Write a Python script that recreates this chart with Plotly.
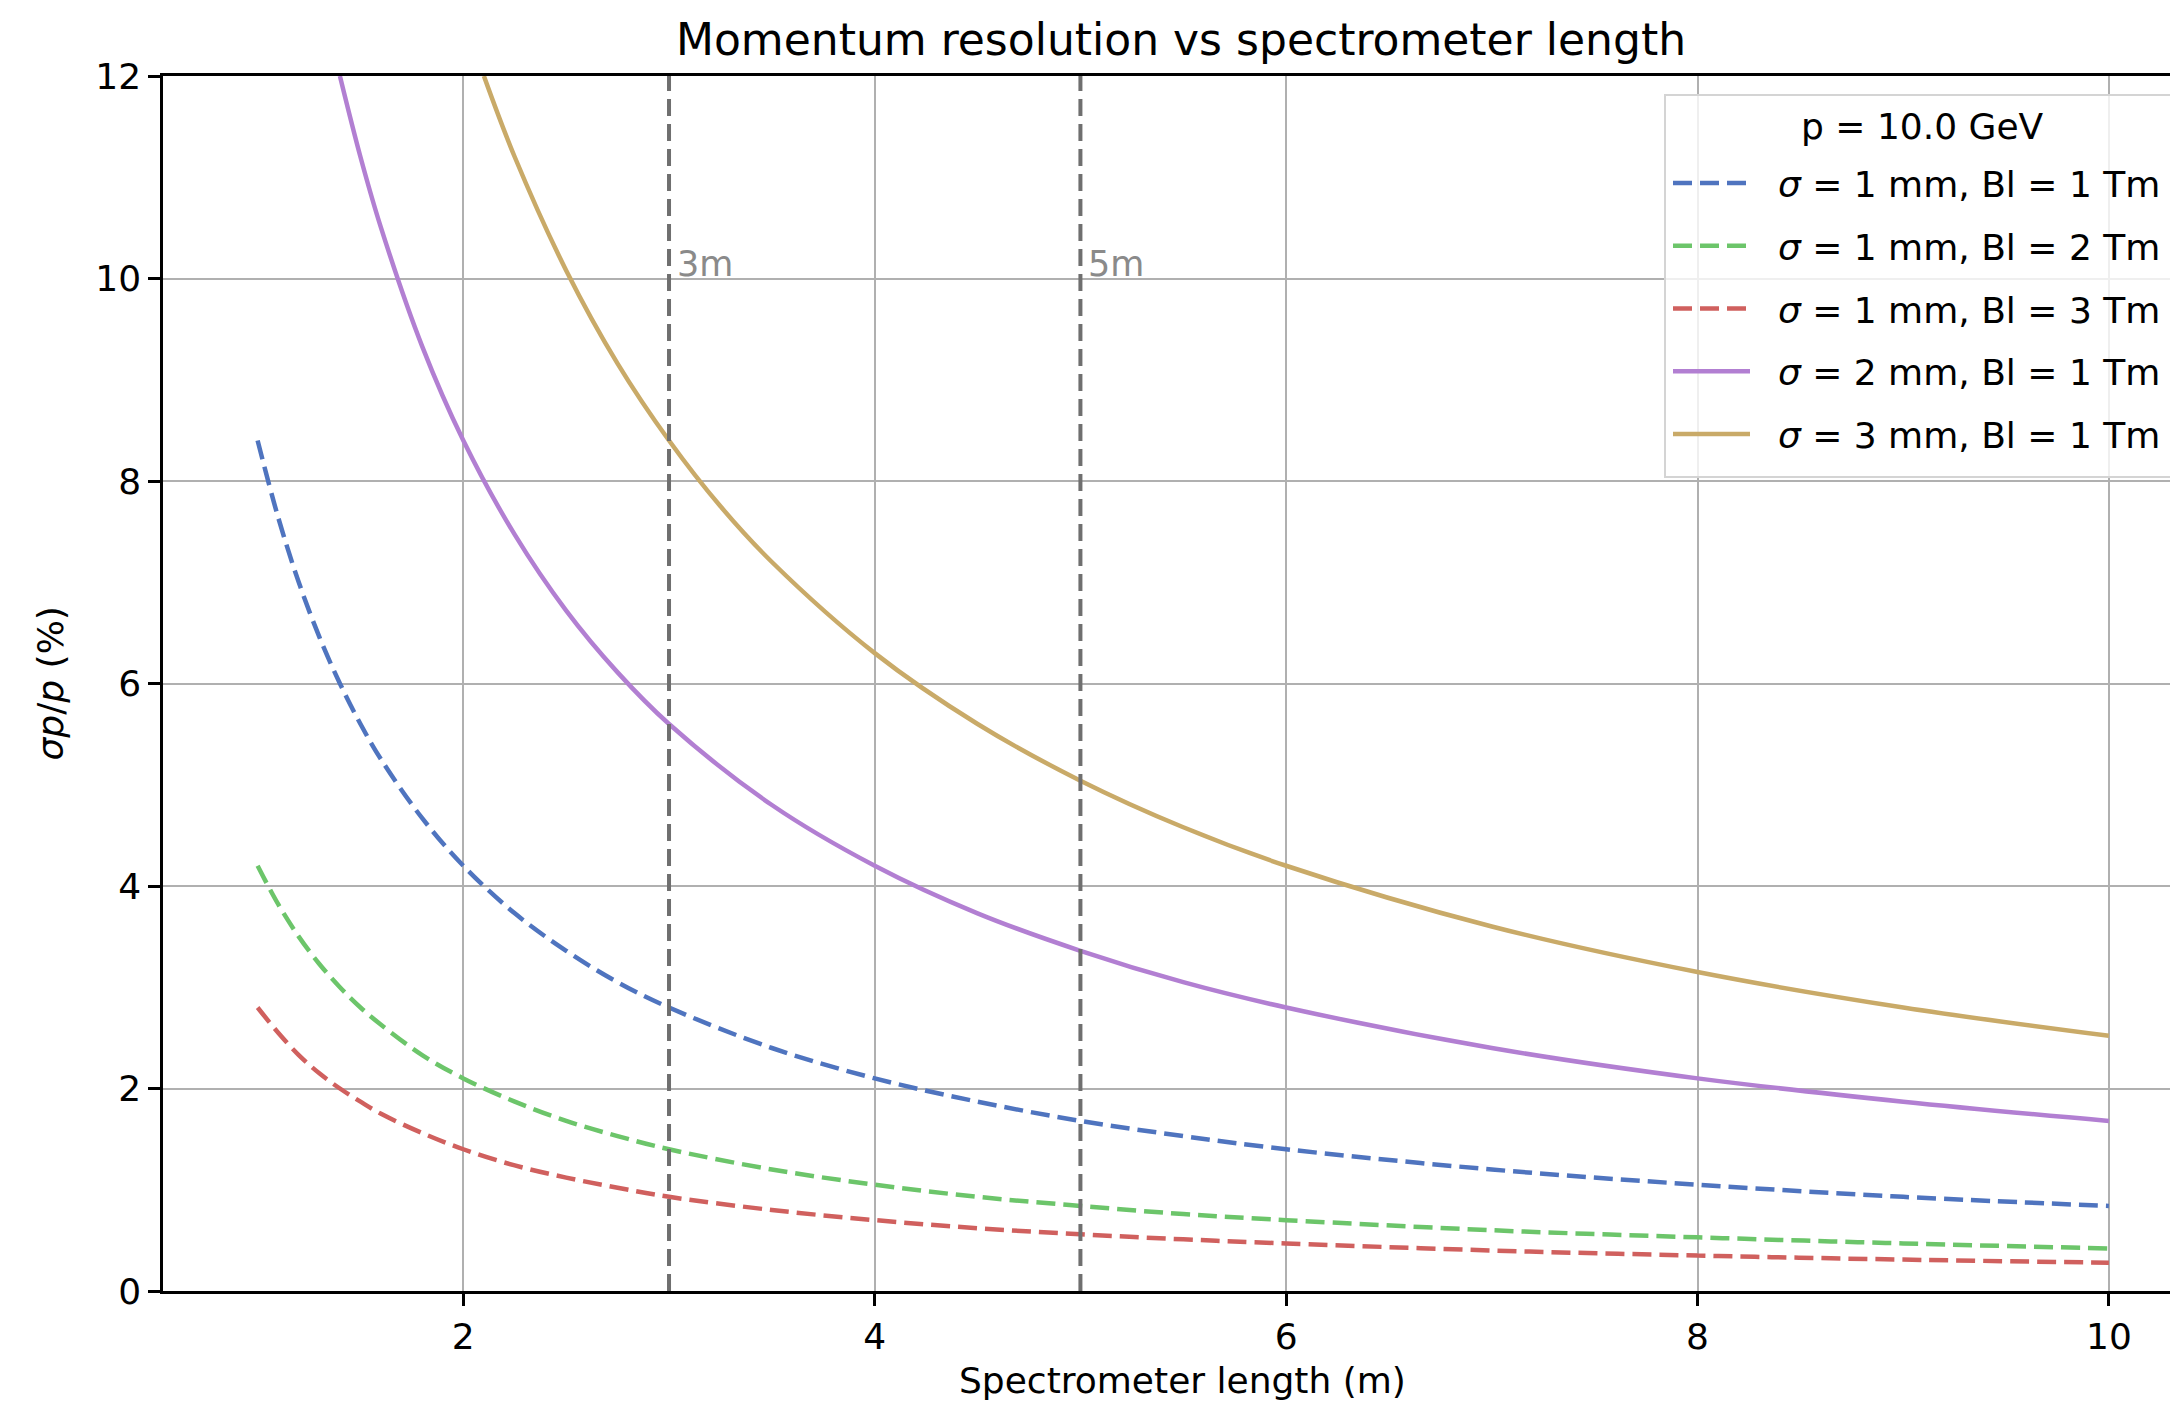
import plotly.graph_objects as go

# ---- data ----
x_b = [1.0, 1.1, 1.2, 1.3, 1.4, 1.5, 1.6, 1.8, 2.0, 2.25, 2.5, 2.75, 3.0, 3.5, 4.0, 4.5, 5.0, 5.5, 6.0, 7.0, 8.0, 9.0, 10.0]
blue_1mm_1Tm = [8.40, 7.64, 7.00, 6.46, 6.00, 5.60, 5.25, 4.67, 4.20, 3.73, 3.36, 3.05, 2.80, 2.40, 2.10, 1.87, 1.68, 1.53, 1.40, 1.20, 1.05, 0.93, 0.84]
green_1mm_2Tm = [4.20, 3.82, 3.50, 3.23, 3.00, 2.80, 2.63, 2.33, 2.10, 1.87, 1.68, 1.53, 1.40, 1.20, 1.05, 0.93, 0.84, 0.76, 0.70, 0.60, 0.53, 0.47, 0.42]
red_1mm_3Tm = [2.80, 2.55, 2.33, 2.15, 2.00, 1.87, 1.75, 1.56, 1.40, 1.24, 1.12, 1.02, 0.93, 0.80, 0.70, 0.62, 0.56, 0.51, 0.47, 0.40, 0.35, 0.31, 0.28]

x_p = [1.4, 1.5, 1.6, 1.8, 2.0, 2.25, 2.5, 2.75, 3.0, 3.5, 4.0, 4.5, 5.0, 5.5, 6.0, 7.0, 8.0, 9.0, 10.0]
purple_2mm_1Tm = [12.0, 11.2, 10.5, 9.33, 8.40, 7.47, 6.72, 6.11, 5.60, 4.80, 4.20, 3.73, 3.36, 3.05, 2.80, 2.40, 2.10, 1.87, 1.68]

x_g = [2.1, 2.25, 2.5, 2.75, 3.0, 3.25, 3.5, 4.0, 4.5, 5.0, 5.5, 6.0, 7.0, 8.0, 9.0, 10.0]
gold_3mm_1Tm = [12.0, 11.2, 10.08, 9.16, 8.40, 7.75, 7.20, 6.30, 5.60, 5.04, 4.58, 4.20, 3.60, 3.15, 2.80, 2.52]

series_names = ["σ = 1 mm, Bl = 1 Tm", "σ = 1 mm, Bl = 2 Tm", "σ = 1 mm, Bl = 3 Tm",
                "σ = 2 mm, Bl = 1 Tm", "σ = 3 mm, Bl = 1 Tm"]
legend_title = "p = 10.0 GeV"
marker_lengths = [3, 5]
marker_labels = ["3m", "5m"]
x_ticks = [2, 4, 6, 8, 10]
y_ticks = [0, 2, 4, 6, 8, 10, 12]

# ---- styling ----
W, H = 2170, 1401
L, T, B = 163, 76, 1291
FONT = "DejaVu Sans"
FS = 36
colors = ["#4f74bf", "#6cc56a", "#d0605e", "#b27fd2", "#c9aa68"]
dashes = ["19px,8px", "19px,8px", "19px,8px", "solid", "solid"]
xs = [x_b, x_b, x_b, x_p, x_g]
ys = [blue_1mm_1Tm, green_1mm_2Tm, red_1mm_3Tm, purple_2mm_1Tm, gold_3mm_1Tm]

plot_w = W - L
plot_h = B - T
def px_x(p):
    return (p - L) / plot_w
def px_y(p):
    return (B - p) / plot_h

fig = go.Figure()
for i in range(5):
    name = series_names[i]
    fig.add_trace(go.Scatter(
        x=xs[i], y=ys[i], mode="lines",
        name="\u00a0\u00a0<i>σ</i>" + name[1:],
        legendgroup=f"g{i}",
        line=dict(color=colors[i], width=4.5, dash=dashes[i], shape="spline", smoothing=1.0),
    ))

for xv, lab in zip(marker_lengths, marker_labels):
    fig.add_shape(type="line", xref="x", yref="paper", x0=xv, x1=xv, y0=0, y1=1,
                  line=dict(color="#6f6f6f", width=4, dash="17px,8px"))
    fig.add_annotation(x=xv, y=10, xref="x", yref="y", text=lab, showarrow=False,
                       xanchor="left", yanchor="bottom", xshift=6, yshift=-7,
                       font=dict(family=FONT, size=35, color="#8a8a8a"))

# legend frame (box extends past the right edge, as in the reference)
fig.add_shape(type="rect", xref="paper", yref="paper",
              x0=px_x(1665), x1=px_x(2230), y0=px_y(477), y1=px_y(95),
              fillcolor="rgba(255,255,255,0.8)", line=dict(color="#d4d4d4", width=2),
              layer="above")
fig.add_annotation(x=px_x(1922), y=px_y(127), xref="paper", yref="paper",
                   text=legend_title, showarrow=False, xanchor="center", yanchor="middle",
                   font=dict(family=FONT, size=FS, color="#000"))

# x axis title
fig.add_annotation(x=px_x(1182), y=px_y(1380), xref="paper", yref="paper",
                   text="Spectrometer length (m)", showarrow=False,
                   xanchor="center", yanchor="middle",
                   font=dict(family=FONT, size=FS, color="#000"))
# y axis title
fig.add_annotation(x=px_x(50), y=0.5, xref="paper", yref="paper",
                   text="<i>σp</i>/<i>p</i> (%)", showarrow=False, textangle=-90,
                   xanchor="center", yanchor="middle",
                   font=dict(family=FONT, size=FS, color="#000"))

fig.update_layout(
    width=W, height=H,
    margin=dict(l=L, r=0, t=T, b=H - B, pad=0),
    paper_bgcolor="white", plot_bgcolor="white",
    font=dict(family=FONT, size=FS, color="#000"),
    title=dict(text="Momentum resolution vs spectrometer length", xref="container", yref="container",
               x=1181 / W, xanchor="center", y=1 - 40 / H, yanchor="middle",
               font=dict(family=FONT, size=44, color="#000")),
    showlegend=True,
    legend=dict(
        x=px_x(1668), xanchor="left", y=px_y(153), yanchor="top",
        bgcolor="rgba(0,0,0,0)", borderwidth=0,
        font=dict(family=FONT, size=FS, color="#000"),
        traceorder="grouped", tracegroupgap=13, itemwidth=77,
    ),
    xaxis=dict(range=[0.54, 10.297], tickvals=x_ticks, ticktext=[str(v) for v in x_ticks],
               showgrid=True, gridcolor="#b0b0b0", gridwidth=2,
               showline=True, linecolor="#000", linewidth=2.5, mirror=True,
               ticks="outside", ticklen=12, tickwidth=2.5, tickcolor="#000",
               zeroline=False, tickfont=dict(family=FONT, size=FS, color="#000")),
    yaxis=dict(range=[0, 12], tickvals=y_ticks, ticktext=[str(v) for v in y_ticks],
               showgrid=True, gridcolor="#b0b0b0", gridwidth=2,
               showline=True, linecolor="#000", linewidth=2.5, mirror=False,
               ticks="outside", ticklen=12, tickwidth=2.5, tickcolor="#000",
               zeroline=False, tickfont=dict(family=FONT, size=FS, color="#000")),
)

fig.write_html("out.html")
